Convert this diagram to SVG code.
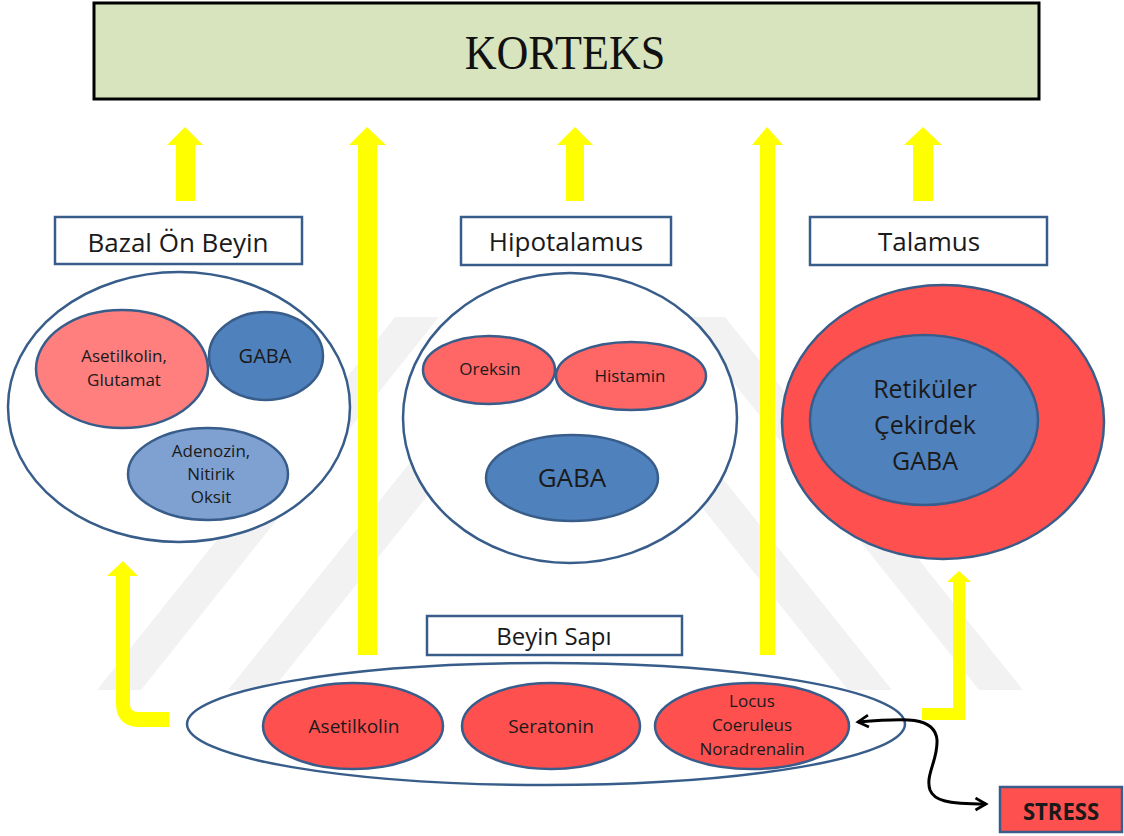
<svg xmlns="http://www.w3.org/2000/svg" width="1124" height="836" viewBox="0 0 1124 836">
<defs>
<style>
.t{font-family:"Open Sans","Liberation Sans",sans-serif;fill:#1a1a1a;text-anchor:middle}
.s{font-size:17px}
.box{fill:#ffffff;stroke:#385d8a;stroke-width:2.5}
.el{stroke:#385d8a;stroke-width:2.5}
.y{fill:#ffff00}
.wm{fill:#f2f2f2}
</style>
<marker id="ah" viewBox="0 0 10 10" refX="8" refY="5" markerWidth="5" markerHeight="5" orient="auto-start-reverse" markerUnits="strokeWidth">
<path d="M1,1 L8,5 L1,9" fill="none" stroke="#000" stroke-width="1.8" stroke-linejoin="miter"/>
</marker>
</defs>
<rect width="1124" height="836" fill="#ffffff"/>
<g id="watermark">
<polygon class="wm" points="97,690 141,690 439,317 395,317"/>
<polygon class="wm" points="979,690 1023,690 725,317 681,317"/>
<polygon class="wm" points="228,690 560,275 892,690 848,690 560,330 272,690"/>
</g>
<g id="korteks">
<rect x="94" y="3" width="945" height="96" fill="#d7e4bd" stroke="#000" stroke-width="3"/>
<text transform="translate(565,69) scale(0.9,1)" font-family="Liberation Serif, serif" font-size="49" fill="#111" text-anchor="middle">KORTEKS</text>
</g>
<g id="bazal-label">
<rect class="box" x="55" y="217" width="247" height="47"/>
<text class="t" x="178" y="252" font-size="26">Bazal Ön Beyin</text>
</g>
<g id="hipotalamus-label">
<rect class="box" x="461" y="217" width="210" height="48"/>
<text class="t" x="566" y="251" font-size="26">Hipotalamus</text>
</g>
<g id="talamus-label">
<rect class="box" x="810" y="217" width="237" height="48"/>
<text class="t" x="929" y="251" font-size="26">Talamus</text>
</g>
<g id="bazal">
<ellipse class="el" cx="179" cy="407" rx="171" ry="135" fill="#ffffff"/>
<ellipse class="el" cx="122" cy="369" rx="86" ry="59" fill="#ff7f7f"/>
<text class="t s" x="124" y="362">Asetilkolin,</text>
<text class="t s" x="124" y="386">Glutamat</text>
<ellipse class="el" cx="266" cy="356" rx="57" ry="44" fill="#4f81bd"/>
<text class="t" x="265" y="363" font-size="20">GABA</text>
<ellipse class="el" cx="208" cy="474" rx="80" ry="46" fill="#7ea1d1"/>
<text class="t s" x="211" y="457">Adenozin,</text>
<text class="t s" x="211" y="480">Nitirik</text>
<text class="t s" x="211" y="503">Oksit</text>
</g>
<g id="hipotalamus">
<ellipse class="el" cx="570" cy="418" rx="167" ry="145" fill="#ffffff"/>
<ellipse class="el" cx="489" cy="370" rx="66" ry="34" fill="#ff6666"/>
<text class="t s" x="490" y="375">Oreksin</text>
<ellipse class="el" cx="631" cy="376" rx="75" ry="34" fill="#ff6666"/>
<text class="t s" x="630" y="382">Histamin</text>
<ellipse class="el" cx="572" cy="478" rx="86" ry="43" fill="#4f81bd"/>
<text class="t" x="572" y="487" font-size="26">GABA</text>
</g>
<g id="talamus">
<ellipse class="el" cx="943" cy="422" rx="161" ry="137" fill="#ff5050"/>
<ellipse class="el" cx="924" cy="420" rx="114" ry="85" fill="#4f81bd"/>
<text class="t" x="925" y="398" font-size="25">Retiküler</text>
<text class="t" x="925" y="434" font-size="25">Çekirdek</text>
<text class="t" x="925" y="470" font-size="25">GABA</text>
</g>
<g id="beyin-sapi-label">
<rect class="box" x="427" y="616" width="255" height="39"/>
<text class="t" x="554" y="645" font-size="24">Beyin Sapı</text>
</g>
<g id="beyin-sapi">
<ellipse class="el" cx="546" cy="724" rx="359" ry="61" fill="#ffffff"/>
<ellipse class="el" cx="353" cy="726" rx="90" ry="43" fill="#ff5050"/>
<text class="t" x="354" y="733" font-size="19">Asetilkolin</text>
<ellipse class="el" cx="551" cy="726" rx="89" ry="43" fill="#ff5050"/>
<text class="t" x="551" y="733" font-size="19">Seratonin</text>
<ellipse class="el" cx="752" cy="726" rx="97" ry="43" fill="#ff5050"/>
<text class="t s" x="752" y="707">Locus</text>
<text class="t s" x="752" y="731">Coeruleus</text>
<text class="t s" x="752" y="755">Noradrenalin</text>
</g>
<g id="stress">
<rect x="1000" y="787" width="122" height="45" fill="#ff5050" stroke="#385d8a" stroke-width="2.5"/>
<text class="t" x="1061" y="820" font-size="24" font-weight="bold" transform="translate(1061,0) scale(0.92,1) translate(-1061,0)">STRESS</text>
</g>
<g id="connectors">
<polygon class="y" points="185,127 203,145 195,145 195,201 176,201 176,145 167,145"/>
<polygon class="y" points="367,127 386,145 377,145 377,655 358,655 358,145 349,145"/>
<polygon class="y" points="575,127 593,145 584,145 584,201 566,201 566,145 557,145"/>
<polygon class="y" points="767,127 783,145 775,145 775,655 760,655 760,145 752,145"/>
<polygon class="y" points="923,127 942,145 933,145 933,201 913,201 913,145 904,145"/>
<path class="y" d="M123,561 L138,576 L130,576 L130,704 Q130,712 138,712 L169,712 L169,727 L140,727 Q116,727 116,703 L116,576 L107,576 Z"/>
<path class="y" d="M959,571 L971,582 L965,582 L965,720 L922,720 L922,708 L953,708 L953,582 L947,582 Z"/>
<path d="M858,722 C905,718 935,716 937,740 C938,760 925,775 930,790 C934,800 945,804 986,804" fill="none" stroke="#000" stroke-width="3" marker-start="url(#ah)" marker-end="url(#ah)"/>
</g>
</svg>
